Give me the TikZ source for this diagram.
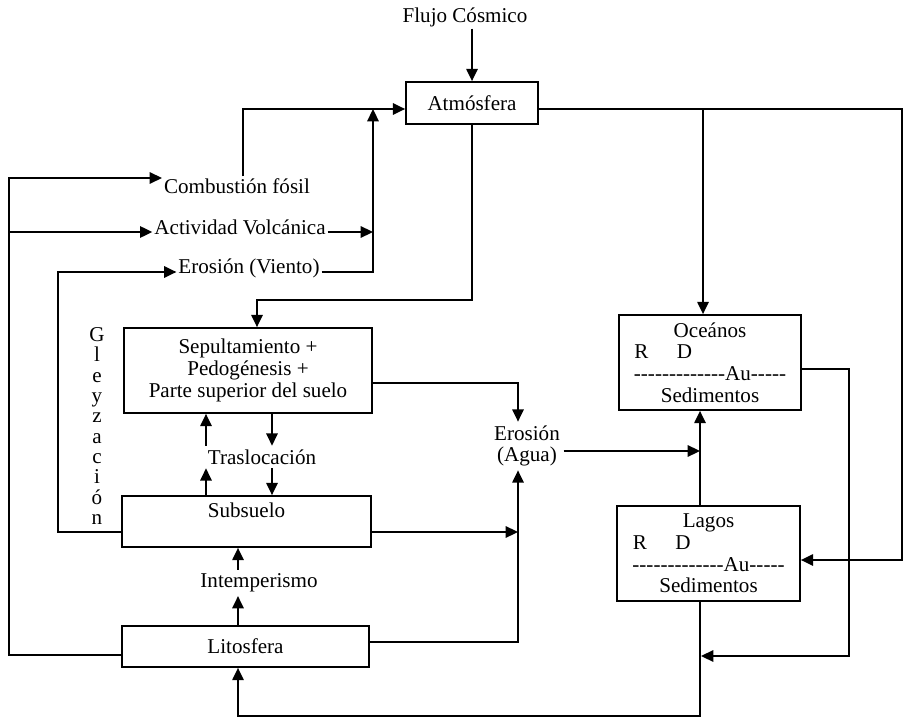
\documentclass[tikz,border=0pt]{standalone}
\usepackage{fontspec}
\setmainfont{Liberation Serif}
\usetikzlibrary{arrows.meta}
\newcommand{\rayas}{-{}-{}-{}-{}-{}-{}-{}-{}-{}-{}-{}-{}-{}Au-{}-{}-{}-{}-}

\begin{document}
\begin{tikzpicture}[x=0.02cm, y=-0.02cm,
    font=\fontsize{12}{12.4}\selectfont,
    box/.style={draw, line width=1pt, align=center, inner sep=2pt},
    lbl/.style={inner sep=1pt},
    arr/.style={line width=1pt, -{Triangle[length=7pt,width=6.5pt]}}]
\useasboundingbox (0,0) rectangle (905,719);

\node[lbl] (flujo) at (465,17) {Flujo Cósmico};
\node[box, minimum width=2.64cm, minimum height=0.84cm] (atm) at (472,103) {Atmósfera};
\node[lbl] (comb) at (237,186) {Combustión fósil};
\node[lbl] (volc) at (240,227) {Actividad Volcánica};
\node[lbl] (viento) at (249,268) {Erosión (Viento)};
\node[box, minimum width=4.96cm, minimum height=1.7cm] (sep) at (248,370.5) {Sepultamiento +\\Pedogénesis +\\Parte superior del suelo};
\node[lbl, inner sep=2pt] (trasl) at (262,457) {Traslocación};
\node[box, minimum width=4.98cm, minimum height=1.02cm, text depth=13pt] (sub) at (246.5,521.5) {Subsuelo};
\node[lbl, inner sep=2pt] (intem) at (259,583) {Intemperismo};
\node[box, minimum width=4.94cm, minimum height=0.82cm] (lito) at (245.5,646.5) {Litosfera};
\node[lbl, align=center, inner sep=2pt] (agua) at (527,446) {Erosión\\(Agua)};
\node[box, minimum width=3.64cm, minimum height=1.9cm] (oce) at (710,362.5) {Oceános\\\makebox[86pt][l]{R\hspace{1.35em}D}\\\rayas\\Sedimentos};
\node[box, minimum width=3.66cm, minimum height=1.9cm] (lagos) at (708.5,553.5) {Lagos\\\makebox[86pt][l]{R\hspace{1.35em}D}\\\rayas\\Sedimentos};
\node[lbl, align=center, font=\fontsize{12}{11.6}\selectfont] (gley) at (97,426) {G\\l\\e\\y\\z\\a\\c\\i\\ó\\n};

\coordinate (rt) at (902,109);
\coordinate (br) at (703,109);
\coordinate (lagin) at (802,560);
\coordinate (c1) at (243,109);
\coordinate (c2) at (373,109);
\coordinate (vi) at (373,272);
\coordinate (v1) at (9,232);
\coordinate (bus1) at (9,178);
\coordinate (ly) at (9,655);
\coordinate (bus2) at (58,272);
\coordinate (bus2b) at (58,532);
\coordinate (d1) at (257,300);
\coordinate (e1) at (518,383);
\coordinate (e2) at (518,642);
\coordinate (e3) at (700,451);
\coordinate (o1) at (849,369);
\coordinate (o3) at (701,656);
\coordinate (l1) at (238,716);
\coordinate (t1) at (206,457);
\coordinate (t2) at (272,457);

\draw[arr] (flujo.south -| atm.north) -- (atm.north);
\draw[arr] (atm.east |- rt) -- (rt) |- (lagos.east |- lagin);
\draw[arr] (br) -- (br |- oce.north);
\draw[arr] (c1 |- comb.north) |- (atm.west |- c1);
\draw[arr] (viento.east |- vi) -- (vi) -- (c2);
\draw[arr] (volc.east |- v1) -- (c2 |- v1);
\draw[arr] (lito.west |- ly) -- (ly) -- (bus1) -- (comb.west |- bus1);
\draw[arr] (v1) -- (volc.west |- v1);
\draw[arr] (sub.west |- bus2b) -- (bus2b) -- (bus2) -- (viento.west |- bus2);
\draw[arr] (atm.south) |- (d1) -- (d1 |- sep.north);
\draw[arr] (sep.east |- e1) -- (e1) -- (e1 |- agua.north);
\draw[arr] (lito.east |- e2) -- (e2) -- (e2 |- agua.south);
\draw[arr] (sub.east |- bus2b) -- (e1 |- bus2b);
\draw[arr] (agua.east |- e3) -- (e3);
\draw[arr] (lagos.north -| e3) -- (oce.south -| e3);
\draw[arr] (oce.east |- o1) -- (o1) |- (o3);
\draw[arr] (lagos.south -| e3) |- (l1) -- (l1 |- lito.south);
\draw[arr] (lito.north -| l1) -- (l1 |- intem.south);
\draw[arr] (intem.north -| l1) -- (l1 |- sub.south);
\draw[arr] (sub.north -| t1) -- (t1 |- trasl.south);
\draw[arr] (trasl.north -| t1) -- (t1 |- sep.south);
\draw[arr] (sep.south -| t2) -- (t2 |- trasl.north);
\draw[arr] (trasl.south -| t2) -- (t2 |- sub.north);
\end{tikzpicture}
\end{document}
